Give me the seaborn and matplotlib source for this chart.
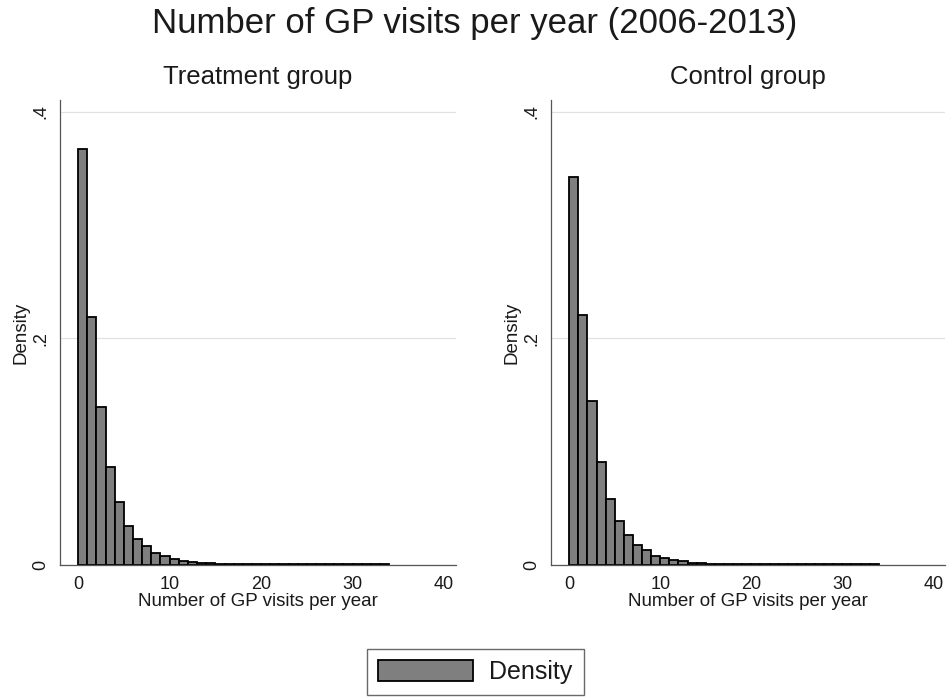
import numpy as np
import pandas as pd
import seaborn as sns
import matplotlib.pyplot as plt
from matplotlib.patches import Patch

# density per 1-visit bin (bins 0..33)
treatment_density = [0.367, 0.219, 0.140, 0.087, 0.056, 0.035, 0.0235, 0.0167,
                     0.0112, 0.0079, 0.0059, 0.0035, 0.0030, 0.0020,
                     0.0016, 0.0014, 0.0013, 0.0012, 0.0012, 0.0011, 0.0011,
                     0.0011, 0.0010, 0.0010, 0.0010, 0.0010, 0.0009, 0.0009,
                     0.0009, 0.0009, 0.0009, 0.0009, 0.0009, 0.0009]
control_density = [0.342, 0.221, 0.145, 0.091, 0.0587, 0.039, 0.0264, 0.018,
                   0.0132, 0.0082, 0.0064, 0.0044, 0.0035, 0.0023,
                   0.0017, 0.0015, 0.0013, 0.0012, 0.0012, 0.0011, 0.0011,
                   0.0011, 0.0010, 0.0010, 0.0010, 0.0010, 0.0009, 0.0009,
                   0.0009, 0.0009, 0.0009, 0.0009, 0.0009, 0.0009]
visit_bins = list(range(0, 35))
panel_titles = ["Treatment group", "Control group"]
x_ticks = [0, 10, 20, 30, 40]
y_ticks = [0, 0.2, 0.4]
y_ticklabels = ["0", ".2", ".4"]

sns.set_style("white")
plt.rcParams['font.family'] = ['Liberation Sans', 'DejaVu Sans']

bar_color = "#7f7f7f"
text_color = "#1a1a1a"

fig = plt.figure(figsize=(9.5, 6.97), dpi=100)
ax_left = fig.add_axes([0.063, 0.189, 0.417, 0.667])
ax_right = fig.add_axes([0.580, 0.189, 0.415, 0.667])

for ax, dens, title in zip([ax_left, ax_right],
                           [treatment_density, control_density], panel_titles):
    df = pd.DataFrame({"visits": np.array(visit_bins[:-1]) + 0.5, "density": dens})
    sns.histplot(data=df, x="visits", weights="density", bins=visit_bins,
                 stat="count", color=bar_color, alpha=1, edgecolor="black",
                 linewidth=1.3, ax=ax)
    ax.set_xlim(-2, 41.3)
    ax.set_ylim(0, 0.41)
    ax.set_xticks(x_ticks)
    ax.set_yticks(y_ticks)
    ax.set_yticklabels(y_ticklabels, rotation=90, va="center")
    ax.tick_params(axis="both", direction="out", length=5.5, width=0.8,
                   color="#444444", labelsize=13, labelcolor=text_color, pad=2)
    ax.yaxis.grid(True, color="#e2e2e2", linewidth=0.9)
    ax.set_axisbelow(True)
    for s in ["top", "right"]:
        ax.spines[s].set_visible(False)
    for s in ["left", "bottom"]:
        ax.spines[s].set_color("#555555")
        ax.spines[s].set_linewidth(0.9)
    ax.set_xlabel("Number of GP visits per year", fontsize=13.5,
                  color=text_color, labelpad=0)
    ax.set_ylabel("Density", fontsize=13.5, color=text_color, labelpad=2)
    ax.set_title(title, fontsize=18.5, color=text_color, pad=12)

fig.suptitle("Number of GP visits per year (2006-2013)", fontsize=25,
             color=text_color, y=0.99)

handle = Patch(facecolor=bar_color, edgecolor="black", linewidth=1.3)
leg = fig.legend([handle], ["Density"], loc="center", bbox_to_anchor=(0.5, 0.036),
                 fontsize=18, frameon=True, fancybox=False, handlelength=3.8,
                 handleheight=0.9, borderpad=0.45, handletextpad=0.65,
                 labelcolor=text_color)
leg.get_frame().set_edgecolor("#444444")
leg.get_frame().set_linewidth(1.0)

fig.savefig("out.png", dpi=100)
